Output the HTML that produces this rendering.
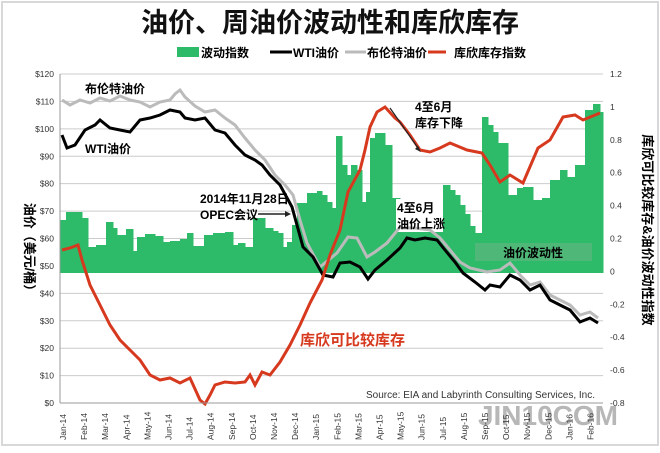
<!DOCTYPE html>
<html><head><meta charset="utf-8"><style>
body{margin:0;width:660px;height:448px;background:#fff;overflow:hidden;font-family:"Liberation Sans","Noto Sans CJK SC",sans-serif}
</style></head><body>
<svg id="s" width="660" height="448" xmlns="http://www.w3.org/2000/svg" font-family="Liberation Sans, Noto Sans CJK SC, sans-serif">
<rect x="2" y="2" width="656" height="443" fill="#fff" stroke="#d8d8d8" stroke-width="2"/>
<text x="330" y="32" font-size="27" font-weight="bold" text-anchor="middle" fill="#111">油价、周油价波动性和库欣库存</text>
<rect x="177" y="47" width="22" height="10" fill="#2dbb6a"/>
<text x="201" y="57" font-size="12" font-weight="bold">波动指数</text>
<line x1="270" y1="52" x2="292" y2="52" stroke="#000" stroke-width="3"/>
<text x="293" y="57" font-size="12" font-weight="bold">WTI油价</text>
<line x1="345" y1="52" x2="366" y2="52" stroke="#bbb" stroke-width="3"/>
<text x="367" y="57" font-size="12" font-weight="bold">布伦特油价</text>
<line x1="428" y1="52" x2="446" y2="52" stroke="#d6391e" stroke-width="3"/>
<text x="454" y="57" font-size="12" font-weight="bold">库欣库存指数</text>
<g id="grid"></g><g id="bars"></g>
<rect x="475" y="243" width="117" height="18" fill="#4fb878"/>
<text x="533" y="257" font-size="12" font-weight="bold" text-anchor="middle">油价波动性</text>
<rect x="396" y="199" width="47" height="33" fill="#fff"/>
<polyline id="brent" fill="none" stroke="#bbb" stroke-width="3"/>
<polyline id="wti" fill="none" stroke="#000" stroke-width="3"/>
<polyline id="inv" fill="none" stroke="#d6391e" stroke-width="3"/>
<line x1="60" y1="74" x2="60" y2="403" stroke="#999"/>
<line x1="60" y1="403" x2="603" y2="403" stroke="#999"/>
<text x="85" y="93" font-size="12" font-weight="bold">布伦特油价</text>
<text x="85" y="153" font-size="12" font-weight="bold">WTI油价</text>
<text x="200" y="203" font-size="12" font-weight="bold">2014年11月28日</text>
<text x="200" y="219" font-size="12" font-weight="bold">OPEC会议</text>
<line x1="258" y1="214" x2="288" y2="214" stroke="#222" stroke-width="1.5"/><path d="M291 214l-6-3v6z" fill="#222"/>
<text x="397" y="212" font-size="12" font-weight="bold">4至6月</text>
<text x="397" y="228" font-size="12" font-weight="bold">油价上涨</text>
<text x="415" y="111" font-size="12" font-weight="bold">4至6月</text>
<text x="415" y="127" font-size="12" font-weight="bold">库存下降</text>
<line x1="390" y1="108" x2="418" y2="148" stroke="#222" stroke-width="1.2"/><path d="M421 152l-6-3 3-3z" fill="#222"/>
<text x="300" y="345" font-size="15" font-weight="bold" fill="#d6391e">库欣可比较库存</text>
<text x="595" y="398" font-size="10" text-anchor="end" fill="#333">Source: EIA and Labyrinth Consulting Services, Inc.</text>
<text x="25" y="250" font-size="13" font-weight="bold" transform="rotate(90 25 250)" text-anchor="middle">油价（美元/桶）</text>
<text x="643" y="230" font-size="13" font-weight="bold" transform="rotate(90 643 230)" text-anchor="middle">库欣可比较库存&amp;油价波动性指数</text>
<text x="618" y="425" font-size="28" font-weight="bold" fill="#999" opacity="0.7" text-anchor="end">JIN10COM</text>
<g id="lbl" font-size="8.5" fill="#333"></g>
</svg>
<script>
var ns="http://www.w3.org/2000/svg",g=document.getElementById('grid'),L=document.getElementById('lbl');
function el(p,t,a,txt){var e=document.createElementNS(ns,t);for(var k in a)e.setAttribute(k,a[k]);if(txt)e.textContent=txt;p.appendChild(e);return e}
for(var i=0;i<=12;i++){var y=74+i*27.42;if(i<12)el(g,'line',{x1:60,y1:y,x2:603,y2:y,stroke:'#ccc','stroke-width':1});
el(L,'text',{x:54,y:y+3,'text-anchor':'end'},'$'+(120-i*10));}
var r=['1.2','1','0.8','0.6','0.4','0.2','0','-0.2','-0.4','-0.6','-0.8'];
for(i=0;i<11;i++){el(L,'text',{x:610,y:74+i*32.9+3},r[i]);}
var m=['Jan','Feb','Mar','Apr','May','Jun','Jul','Aug','Sep','Oct','Nov','Dec'];
for(i=0;i<26;i++){var x=63+i*21.1,t=m[i%12]+'-'+(i<12?14:i<24?15:16);el(L,'text',{x:x+3,y:440,transform:'rotate(-90 '+(x+3)+' 440)'},t);}
function P(id,a){var s='';for(var i=0;i<a.length;i+=2)s+=a[i]+','+a[i+1]+' ';document.getElementById(id).setAttribute('points',s)}
P('wti',[62,135,67,148,75,145,85,130,95,125,100,120,110,128,120,130,130,132,140,120,150,118,160,115,170,110,180,112,185,118,195,120,205,118,215,130,225,133,235,145,245,155,255,160,262,165,270,175,280,185,292,207,303,247,313,257,323,275,333,277,340,263,350,262,360,267,368,279,375,270,387,260,400,248,407,238,415,240,425,238,437,240,445,250,455,262,463,273,475,282,485,290,490,285,500,287,510,275,520,280,530,290,540,285,550,300,560,305,570,310,580,322,590,318,598,323]);
P('brent',[62,100,70,105,80,100,90,103,100,98,110,101,120,96,130,100,140,102,150,107,160,102,170,100,175,94,180,90,185,97,195,106,205,112,215,110,225,118,235,125,245,138,255,150,265,160,275,175,285,185,293,195,300,220,307,243,320,267,337,253,348,237,357,238,367,257,375,252,387,243,400,227,403,228,415,228,430,230,440,238,450,250,460,262,470,268,487,272,500,270,510,263,520,275,530,285,540,282,550,295,560,300,570,305,580,315,590,312,598,318]);
P('inv',[62,250,70,248,78,245,82,260,90,285,100,305,110,325,120,340,130,350,140,360,150,375,160,380,170,378,180,383,190,378,200,400,205,404,210,395,215,385,225,382,235,383,245,382,250,375,255,385,262,372,270,375,280,362,290,345,300,325,310,303,322,280,330,255,340,230,348,192,360,170,365,150,370,127,377,112,385,107,395,118,400,122,410,135,420,150,430,152,440,148,450,143,467,150,482,153,490,165,500,182,510,175,523,183,538,148,550,140,563,117,575,115,583,120,600,113]);
var S=[[60,66,220],[66,73,212],[73,82,212],[82,88,218],[88,96,247],[96,106,245],[106,113,222],[113,117,228],[117,126,235],[126,133,229],[133,137,251],[137,145,237],[145,155,234],[155,163,236],[163,170,242],[170,180,241],[180,187,239],[187,193,233],[193,204,246],[204,213,235],[213,225,233],[225,233,232],[233,238,245],[238,245,243],[245,253,247],[253,265,218],[265,273,228],[273,278,231],[278,283,233],[283,287,247],[287,292,242],[292,297,225],[297,307,203],[307,317,193],[317,322,191],[322,327,195],[327,332,202],[332,336,208],[336,342,136],[342,347,165],[347,351,175],[351,357,165],[357,362,170],[362,366,202],[366,370,192],[370,375,138],[375,380,133],[380,385,133],[385,392,145],[392,400,198],[400,443,205],[443,450,185],[450,455,190],[455,460,195],[460,465,205],[465,470,214],[470,475,226],[475,482,233],[482,488,117],[488,493,125],[493,498,132],[498,508,143],[508,517,195],[517,523,188],[523,533,187],[533,542,200],[542,550,198],[550,560,180],[560,567,170],[567,575,177],[575,585,165],[585,593,110],[593,600,104],[600,603,112]];
var b=document.getElementById('bars');
S.forEach(function(s){el(b,'rect',{x:s[0],y:s[2],width:s[1]-s[0]+0.5,height:273-s[2],fill:'#2dbb6a'})});
</script>
</body></html>
